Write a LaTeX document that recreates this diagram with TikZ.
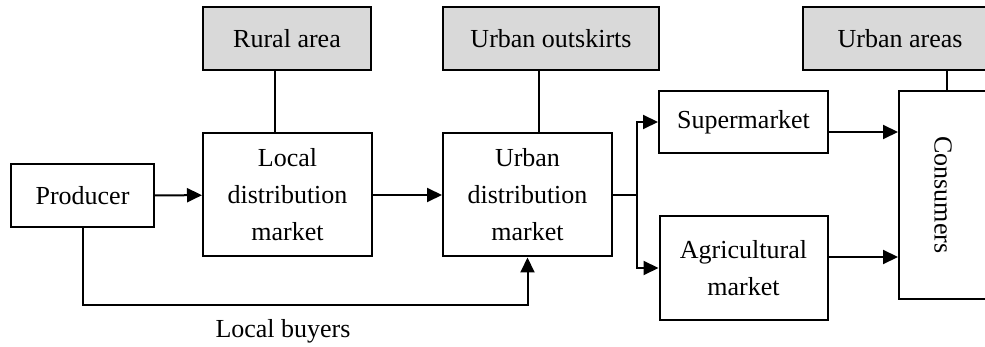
\documentclass[tikz,border=0pt]{standalone}
\usepackage{fontspec}
\setmainfont{Liberation Serif}
\usepackage{graphicx}
\usepackage{tikz}
\usetikzlibrary{calc,positioning,arrows.meta}
\tikzset{
	stage/.style={
		draw,
		line width=2pt,
		inner sep=0pt,
		align=center,
		font=\fontsize{26}{37}\selectfont
	},
	area/.style={
		stage,
		fill=black!15
	},
	link/.style={
		line width=2pt
	},
	flow/.style={
		link,
		-{Triangle[length=15pt,width=14pt]}
	}
}

\begin{document}
\begin{tikzpicture}[x=1pt,y=-1pt]

	\useasboundingbox (0,0) rectangle (985,347);

	%% Areas
	\node[area, minimum width=168pt, minimum height=63pt] (rural) at (287,38.5) {Rural area};
	\node[area, minimum width=216pt, minimum height=63pt] (outskirts) at (551,38.5) {Urban outskirts};
	\node[area, minimum width=194pt, minimum height=63pt] (urbanareas) at (900,38.5) {Urban areas};

	%% Chain
	\node[stage, minimum width=143pt, minimum height=63pt] (producer) at (82.5,195.5) {Producer};
	\node[stage, minimum width=169pt, minimum height=123pt] (localdist) at (287.5,195) {Local\\distribution\\market};
	\node[stage, minimum width=169pt, minimum height=123pt] (urbandist) at (527.5,195) {Urban\\distribution\\market};
	\node[stage, minimum width=169pt, minimum height=62pt] (supermarket) at (743.5,122) {Supermarket};
	\node[stage, minimum width=168pt, minimum height=104pt] (agri) at (743.5,268) {Agricultural\\market};
	\node[stage, minimum width=88pt, minimum height=208pt] (consumers) at (943,195) {\rotatebox{-90}{Consumers}};

	% Label
	\node[font=\fontsize{26}{37}\selectfont, inner sep=0] (buyers) at (283,331) {Local buyers};

	%% Links to areas
	\draw[link] ([xshift=-12pt]rural.south) -- ([xshift=-12pt]rural.south |- localdist.north);
	\draw[link] ([xshift=-12pt]outskirts.south) -- ([xshift=-12pt]outskirts.south |- urbandist.north);
	\draw[link] ([xshift=4pt]consumers.north) -- ([xshift=4pt]consumers.north |- urbanareas.south);

	%% Flows
	\draw[flow] (producer) -- (localdist);
	\draw[flow] (localdist) -- (urbandist);
	\draw[flow] (producer.south) -- ++(0,77) -| (urbandist.south);

	\coordinate (fork) at ($(urbandist.east)+(24,0)$);
	\draw[link] (urbandist.east) -- (fork);
	\draw[flow] (fork) |- (supermarket.west);
	\draw[flow] (fork) |- (agri.west);

	\draw[flow] ([yshift=-10pt]supermarket.east) -- ([yshift=-10pt]supermarket.east -| consumers.west);
	\draw[flow] ([yshift=11pt]agri.east) -- ([yshift=11pt]agri.east -| consumers.west);

\end{tikzpicture}
\end{document}
